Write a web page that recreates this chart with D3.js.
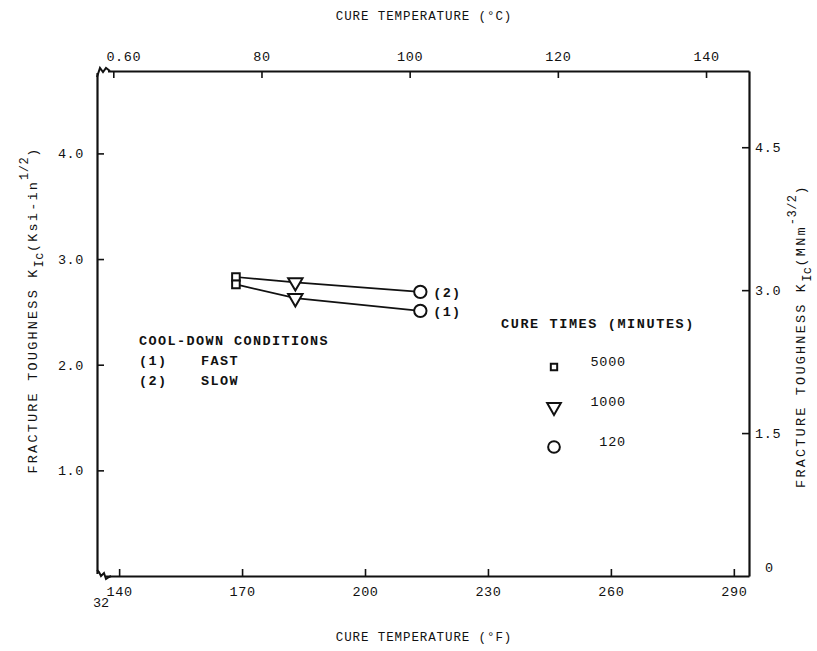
<!DOCTYPE html>
<html>
<head>
<meta charset="utf-8">
<script src="https://cdn.jsdelivr.net/npm/d3@7"></script>
<style>
  html, body { margin: 0; padding: 0; background: #fff; }
  svg { display: block; }
  text { font-family: "Liberation Mono", "DejaVu Sans Mono", monospace; fill: #111; }
  .axis path, .axis line { stroke: #111; }
</style>
</head>
<body>
<div id="chart"></div>
<script>
// cure temperature of the three specimens (deg F)
const tempF = [168.5, 183, 213.5];
// fracture toughness K_Ic (ksi-in^1/2) for the two cool-down conditions
const fastK = [2.76, 2.63, 2.51];   // (1) FAST
const slowK = [2.83, 2.78, 2.69];   // (2) SLOW
// cure times (minutes) matching each point: square, triangle, circle
const cureTimes = ['5000', '1000', '120'];

const xTicksF = [140, 170, 200, 230, 260, 290];
const xTicksC = [60, 80, 100, 120, 140];
const yTicksKsi = [1, 2, 3, 4];
const yTicksMN = [0, 1.5, 3, 4.5];

const W = 817, H = 651;
const L = 97, R = 749, T = 71, B = 576;

const svg = d3.select('#chart').append('svg')
  .attr('width', W).attr('height', H);

const x  = d3.scaleLinear().domain([134.6, 293.7]).range([L, R]);
const xC = d3.scaleLinear().domain([57.8, 145.8]).range([L, R]);
const y  = d3.scaleLinear().domain([0, 4.78]).range([B, T]);
const yM = d3.scaleLinear().domain([0, 5.30]).range([B, T]);

const fmt1 = d3.format('.1f');

function styleAxis(g) {
  g.attr('class', 'axis');
  g.select('.domain').attr('stroke-width', 2.2);
  g.selectAll('.tick line').attr('stroke-width', 1.6);
  g.selectAll('.tick text').style('font-size', '13.5px').style('letter-spacing', '0.6px').attr('fill', '#111');
}

// bottom (deg F)
svg.append('g').attr('transform', `translate(0,${B})`)
  .call(d3.axisBottom(x).tickValues(xTicksF).tickSizeInner(-7).tickSizeOuter(0).tickPadding(10))
  .call(styleAxis);

// top (deg C)
svg.append('g').attr('transform', `translate(0,${T})`)
  .call(d3.axisTop(xC).tickValues(xTicksC).tickSizeInner(-7).tickSizeOuter(0).tickPadding(10)
    .tickFormat(d => d === 60 ? '0.60' : d))
  .call(styleAxis)
  .call(g => g.selectAll('.tick text').filter(d => d === 60).attr('dx', 10));

// left (ksi-in^1/2)
svg.append('g').attr('transform', `translate(${L},0)`)
  .call(d3.axisLeft(y).tickValues(yTicksKsi).tickSizeInner(-7).tickSizeOuter(0).tickPadding(13).tickFormat(fmt1))
  .call(styleAxis);

// right (MNm^-3/2)
svg.append('g').attr('transform', `translate(${R},0)`)
  .call(d3.axisRight(yM).tickValues(yTicksMN).tickSizeInner(-7).tickSizeOuter(0).tickPadding(6)
    .tickFormat(d => d === 0 ? '0' : fmt1(d)))
  .call(styleAxis)
  .call(g => g.selectAll('.tick text').filter(d => d === 0).attr('dy', '-0.35em').attr('x', 16))
  .call(g => g.selectAll('.tick line').filter(d => d === 0).remove());

// broken-axis marks at the left corners
svg.append('rect').attr('x', L - 1).attr('y', T - 2).attr('width', 12).attr('height', 4).attr('fill', '#fff');
svg.append('path')
  .attr('d', `M${L},${T + 6} L${L + 3},${T - 3} L${L + 6},${T + 1} L${L + 9},${T - 3} L${L + 13},${T}`)
  .attr('fill', 'none').attr('stroke', '#111').attr('stroke-width', 2);

svg.append('rect').attr('x', L - 1).attr('y', B - 2).attr('width', 10).attr('height', 4).attr('fill', '#fff');
svg.append('path')
  .attr('d', `M${L},${B - 6} L${L + 2},${B - 4} L${L + 4},${B} L${L + 7},${B - 3} L${L + 9},${B + 3} L${L + 12},${B + 1} L${L + 14},${B}`)
  .attr('fill', 'none').attr('stroke', '#111').attr('stroke-width', 2);
svg.append('text').attr('x', L + 4).attr('y', B + 31).attr('text-anchor', 'middle')
  .style('font-size', '13.5px').text('32');

// axis titles
svg.append('text').attr('x', 424).attr('y', 20).attr('text-anchor', 'middle')
  .style('font-size', '12.5px').style('letter-spacing', '0.9px').text('CURE TEMPERATURE (°C)');
svg.append('text').attr('x', 424).attr('y', 641).attr('text-anchor', 'middle')
  .style('font-size', '12.5px').style('letter-spacing', '0.9px').text('CURE TEMPERATURE (°F)');

function vTitle(cx, cy, unit, power) {
  const t = svg.append('text')
    .attr('transform', `translate(${cx},${cy}) rotate(-90)`)
    .attr('text-anchor', 'middle')
    .style('font-size', '13.5px').style('letter-spacing', '2.2px');
  t.append('tspan').text('FRACTURE TOUGHNESS K');
  t.append('tspan').attr('dy', 6).style('font-size', '12px').style('letter-spacing', '0.5px').text('Ic');
  t.append('tspan').attr('dy', -6).text(`(${unit}`);
  t.append('tspan').attr('dy', -9).style('font-size', '12px').style('letter-spacing', '0.5px').text(power);
  t.append('tspan').attr('dy', 9).text(')');
}
vTitle(37, 310, 'Ksi-in', '1/2');
vTitle(805, 336, 'MNm', '-3/2');

// data lines
const line = d3.line().x(d => x(d[0])).y(d => y(d[1]));
const series = [
  { k: slowK, tag: '(2)' },
  { k: fastK, tag: '(1)' }
];
const g = svg.append('g');
g.selectAll('path.series').data(series).join('path')
  .attr('class', 'series')
  .attr('d', s => line(tempF.map((t, i) => [t, s.k[i]])))
  .attr('fill', 'none').attr('stroke', '#111').attr('stroke-width', 1.7);

const symbolTypes = [d3.symbolSquare, d3.symbolTriangle, d3.symbolCircle];
const symbolSizes = [58, 90, 120];
const symbolRot = [0, 180, 0];
function marker(sel, i, scale) {
  sel.attr('d', d3.symbol().type(symbolTypes[i]).size(symbolSizes[i] * (scale || 1))())
    .attr('fill', '#fff').attr('stroke', '#111').attr('stroke-width', 2);
}

series.forEach(s => {
  tempF.forEach((t, i) => {
    g.append('path')
      .attr('transform', `translate(${x(t)},${y(s.k[i])}) rotate(${symbolRot[i]})`)
      .call(marker, i);
  });
  g.append('text')
    .attr('x', x(tempF[tempF.length - 1]) + 13)
    .attr('y', y(s.k[s.k.length - 1]))
    .attr('dy', '0.35em')
    .style('font-size', '13.5px').style('letter-spacing', '1.2px').style('font-weight', 'bold')
    .text(s.tag);
});

// cool-down legend
const cool = svg.append('g').style('font-size', '13.5px').style('font-weight', 'bold').style('letter-spacing', '1.4px');
cool.append('text').attr('x', 139).attr('y', 345).text('COOL-DOWN CONDITIONS');
cool.append('text').attr('x', 139).attr('y', 365).text('(1)');
cool.append('text').attr('x', 201).attr('y', 365).text('FAST');
cool.append('text').attr('x', 139).attr('y', 385).text('(2)');
cool.append('text').attr('x', 201).attr('y', 385).text('SLOW');

// cure time legend
svg.append('text').attr('x', 501).attr('y', 328)
  .style('font-size', '13.5px').style('font-weight', 'bold').style('letter-spacing', '1.6px')
  .text('CURE TIMES (MINUTES)');
cureTimes.forEach((c, i) => {
  const cy = 367 + i * 40;
  svg.append('path')
    .attr('transform', `translate(554,${cy}) rotate(${symbolRot[i]})`)
    .call(marker, i, i === 0 ? 0.7 : 0.9);
  svg.append('text').attr('x', 626).attr('y', cy - 2).attr('dy', '0.1em').attr('text-anchor', 'end')
    .style('font-size', '13.5px').style('letter-spacing', '0.8px').text(c);
});
</script>
</body>
</html>
